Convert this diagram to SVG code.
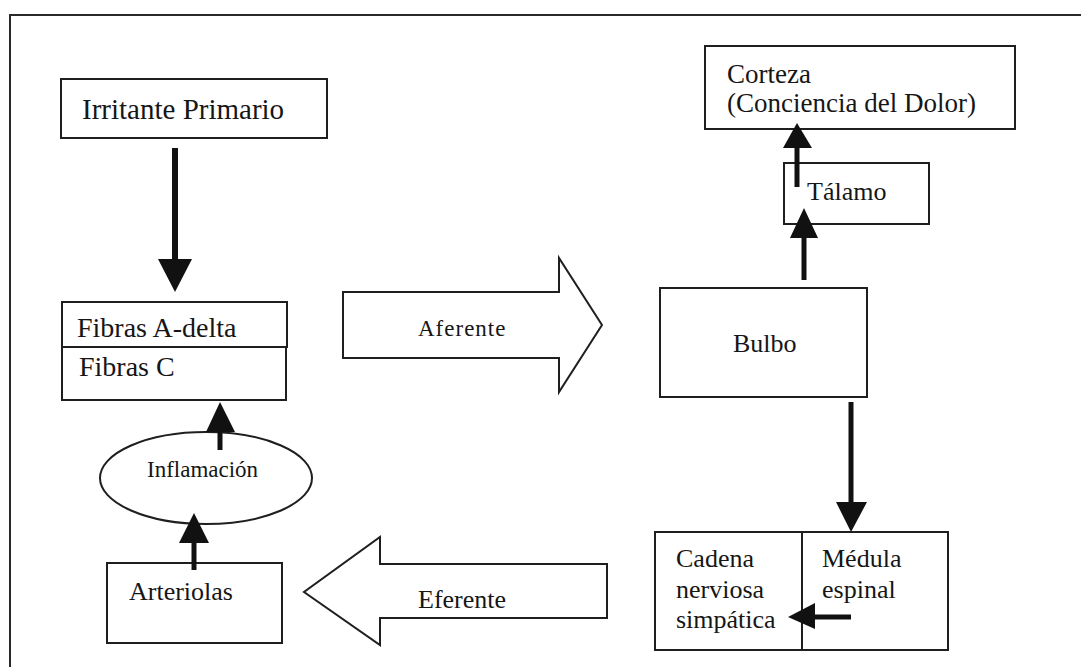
<svg xmlns="http://www.w3.org/2000/svg" width="1081" height="667" viewBox="0 0 1081 667">
  <style>
    .box { fill: #ffffff; stroke: #1f1f1f; stroke-width: 2; }
    .frame { fill: none; stroke: #2a2a2a; stroke-width: 2; }
    .lbl { font-family: "Liberation Serif", "Times New Roman", serif; font-size: 26px; fill: #161616; }
    .big { font-size: 28px; }
    .shaft { stroke: #111111; stroke-width: 5; fill: none; }
    .head { fill: #111111; stroke: none; }
    .block { fill: #ffffff; stroke: #1f1f1f; stroke-width: 2; stroke-linejoin: miter; }
  </style>

  <rect width="1081" height="667" fill="#ffffff"/>

  <!-- page frame: top and left rules only -->
  <path class="frame" d="M1081,15 L10,15 L10,667"/>

  <g id="irritante">
    <rect class="box" x="61" y="79" width="266" height="59"/>
    <text class="lbl" x="82" y="119" style="font-size:29px">Irritante Primario</text>
  </g>

  <g id="fibras-adelta">
    <rect class="box" x="62" y="302" width="225" height="45"/>
    <text class="lbl big" x="77" y="337">Fibras A-delta</text>
  </g>

  <g id="fibras-c">
    <rect class="box" x="62" y="347" width="224" height="53"/>
    <text class="lbl big" x="79" y="376">Fibras C</text>
  </g>

  <g id="inflamacion">
    <ellipse class="box" cx="206" cy="478" rx="106" ry="46"/>
    <text class="lbl" x="147" y="477" style="font-size:23px">Inflamación</text>
  </g>

  <g id="arteriolas">
    <rect class="box" x="107" y="563" width="175" height="80"/>
    <text class="lbl" x="129" y="600">Arteriolas</text>
  </g>

  <g id="corteza">
    <rect class="box" x="705" y="46" width="310" height="83"/>
    <text class="lbl" x="727" y="83" style="font-size:27px">Corteza</text>
    <text class="lbl" x="727" y="112" style="font-size:27px">(Conciencia del Dolor)</text>
  </g>

  <g id="talamo">
    <rect class="box" x="784" y="163" width="145" height="61"/>
    <text class="lbl" x="807" y="200">Tálamo</text>
  </g>

  <g id="bulbo">
    <rect class="box" x="660" y="288" width="207" height="109"/>
    <text class="lbl" x="733" y="352">Bulbo</text>
  </g>

  <g id="medula-cadena">
    <rect class="box" x="655" y="532" width="293" height="118"/>
    <line class="box" x1="802" y1="532" x2="802" y2="650"/>
    <text class="lbl" x="676" y="567">Cadena</text>
    <text class="lbl" x="676" y="598">nerviosa</text>
    <text class="lbl" x="676" y="628">simpática</text>
    <text class="lbl" x="822" y="567">Médula</text>
    <text class="lbl" x="822" y="598">espinal</text>
  </g>

  <g id="aferente">
    <path class="block" d="M343,292 L559,292 L559,258 L602,325 L559,392 L559,358 L343,358 Z"/>
    <text class="lbl" x="418" y="336" style="font-size:23px;letter-spacing:1px">Aferente</text>
  </g>

  <g id="eferente">
    <path class="block" d="M607,564 L380,564 L380,537 L304,592 L380,645 L380,618 L607,618 Z"/>
    <text class="lbl" x="418" y="608">Eferente</text>
  </g>

  <g id="connectors">
    <!-- Irritante -> Fibras -->
    <line class="shaft" x1="175" y1="148" x2="175" y2="262" style="stroke-width:6"/>
    <polygon class="head" points="158,259 192,259 175,292"/>
    <!-- Inflamación -> Fibras C -->
    <line class="shaft" x1="220" y1="450" x2="220" y2="430"/>
    <polygon class="head" points="206,432 235,432 220,402"/>
    <!-- Arteriolas -> Inflamación -->
    <line class="shaft" x1="194" y1="570" x2="194" y2="540"/>
    <polygon class="head" points="179,543 209,543 194,513"/>
    <!-- Bulbo -> Tálamo -->
    <line class="shaft" x1="804" y1="280" x2="804" y2="236"/>
    <polygon class="head" points="790,238 818,238 804,208"/>
    <!-- Tálamo -> Corteza -->
    <line class="shaft" x1="797" y1="187" x2="797" y2="146"/>
    <polygon class="head" points="783,148 812,148 797,123"/>
    <!-- Bulbo -> Médula -->
    <line class="shaft" x1="851" y1="402" x2="851" y2="504"/>
    <polygon class="head" points="836,502 867,502 851,532"/>
    <!-- Médula -> Cadena -->
    <line class="shaft" x1="851" y1="617" x2="813" y2="617"/>
    <polygon class="head" points="815,603 815,629 788,617"/>
  </g>
</svg>
